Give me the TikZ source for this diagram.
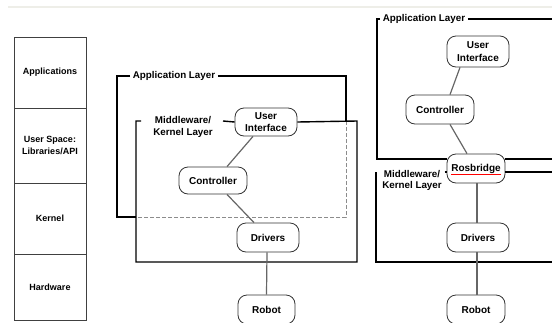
\documentclass[tikz,border=0pt]{standalone}
\usepackage{fontspec}
\setmainfont{Liberation Sans}
\begin{document}
\begin{tikzpicture}[x=1pt,y=-1pt,
  stackbox/.style={draw=black!75,line width=0.6pt,minimum width=72pt,align=center,inner sep=0pt,font=\fontsize{9}{11.5}\selectfont\bfseries},
  comp/.style={draw=black!80,line width=0.8pt,rounded corners=9pt,minimum height=28pt,align=center,inner sep=1pt,font=\fontsize{10}{12.5}\selectfont\bfseries},
  lbl/.style={align=center,inner sep=2.5pt,font=\fontsize{9.8}{11.5}\selectfont\bfseries},
  layer/.style={black,line width=1.4pt},
  hidden/.style={black!45,line width=1pt,dashed,dash pattern=on 4pt off 2pt},
  link/.style={black!60,line width=1.2pt}]
\useasboundingbox (0,0) rectangle (552,322);
\clip (0,0) rectangle (552,322);
% faint top rule
\draw[color={rgb,255:red,238;green,238;blue,232},line width=2pt] (8,7) -- (552,7);

% left stack
\node[stackbox,minimum height=71pt] (s1) at (50,72.5) {Applications};
\node[stackbox,minimum height=75pt] (s2) at (50,145.5) {User Space:\\Libraries/API};
\node[stackbox,minimum height=71pt] (s3) at (50,218.5) {Kernel};
\node[stackbox,minimum height=66pt] (s4) at (50,287) {Hardware};

% ---------- middle diagram ----------
\node[comp,minimum width=62pt] (ui) at (266,122) {User\\Interface};
\node[comp,minimum width=68pt,minimum height=27pt] (ctrl) at (213,180.5) {Controller};
\node[comp,minimum width=62pt,minimum height=29pt] (drv) at (268,237.5) {Drivers};
\node[comp,minimum width=57pt,minimum height=29pt] (rob) at (266.5,309.5) {Robot};

\node[lbl] (applbl) at (174,76) {Application Layer};
\node[lbl,anchor=north,inner sep=1pt] (mwlbl) at (183,115.5) {Middleware/\\Kernel Layer};

\coordinate (a1) at (117,76);
\coordinate (a2) at (346,76);
\coordinate (a3) at (346,121);
\coordinate (a4) at (346,217);
\coordinate (a5) at (136,217);
\coordinate (a6) at (117,217);
\draw[layer] (applbl.west) -- (a1) -- (a6) -- (a5);
\draw[layer] (applbl.east) -- (a2) -- (a3);
\draw[hidden] (a3) -- (a4) -- (a5);

\coordinate (m1) at (136,121);
\coordinate (m1b) at (141,121);
\coordinate (m2) at (223,121);
\coordinate (m3) at (357,121);
\coordinate (m4) at (357,262);
\coordinate (m5) at (136,262);
\draw[layer] (m1b) -- (m1) -- (m5) -- (m4) -- (m3) -- (ui.east);
\draw[layer] (m2) -- (ui.west);

\draw[link] ([xshift=-13pt]ui.south) -- ([xshift=14pt]ctrl.north);
\draw[link] ([xshift=14pt]ctrl.south) -- ([xshift=-14pt]drv.north);
\draw[link] ([xshift=-1pt]drv.south) -- (rob.north);

% ---------- right diagram ----------
\node[comp,minimum width=62pt,minimum height=31pt] (ui2) at (478,51.5) {User\\Interface};
\node[comp,minimum width=68pt,minimum height=29pt] (ctrl2) at (440,109.5) {Controller};
\node[comp,minimum width=58pt,minimum height=29pt] (ros) at (476,168.5) {Rosbridge};
\node[comp,minimum width=62pt,minimum height=29pt] (drv2) at (478,237.5) {Drivers};
\node[comp,minimum width=58pt,minimum height=29pt] (rob2) at (476,309.5) {Robot};

\node[lbl] (applbl2) at (424,19) {Application Layer};
\node[lbl,anchor=north,inner sep=1pt] (mwlbl2) at (412,169) {Middleware/\\Kernel Layer};

\coordinate (b1) at (377,19);
\coordinate (b1b) at (379.5,19);
\coordinate (b2) at (560,19);
\coordinate (b3) at (377,159);
\coordinate (b4) at (560,159);
\draw[layer] (b1b) -- (b1) -- (b3) -- (ros.west |- b3);
\draw[layer] (applbl2.east) -- (b2);
\draw[layer] (ros.east |- b4) -- (b4);

\coordinate (n1) at (376,172);
\coordinate (n2) at (376,262);
\coordinate (n3) at (560,262);
\coordinate (n4) at (560,172);
\coordinate (n5) at (444.5,172);
\draw[layer] (n1) -- (n2) -- (n3);
\draw[layer] (n4) -- (ros.east |- n4);
\draw[layer] (n5) -- (ros.west |- n5);

\draw[red,line width=0.8pt] (451,174) -- (501,174);

\draw[link] ([xshift=-18pt]ui2.south) -- ([xshift=10pt]ctrl2.north);
\draw[link] ([xshift=10pt]ctrl2.south) -- ([xshift=-9pt]ros.north);
\draw[link] ([xshift=1pt]ros.south) -- ([xshift=-1pt]drv2.north);
\draw[link] ([xshift=-1pt]drv2.south) -- ([xshift=1pt]rob2.north);
\end{tikzpicture}
\end{document}
